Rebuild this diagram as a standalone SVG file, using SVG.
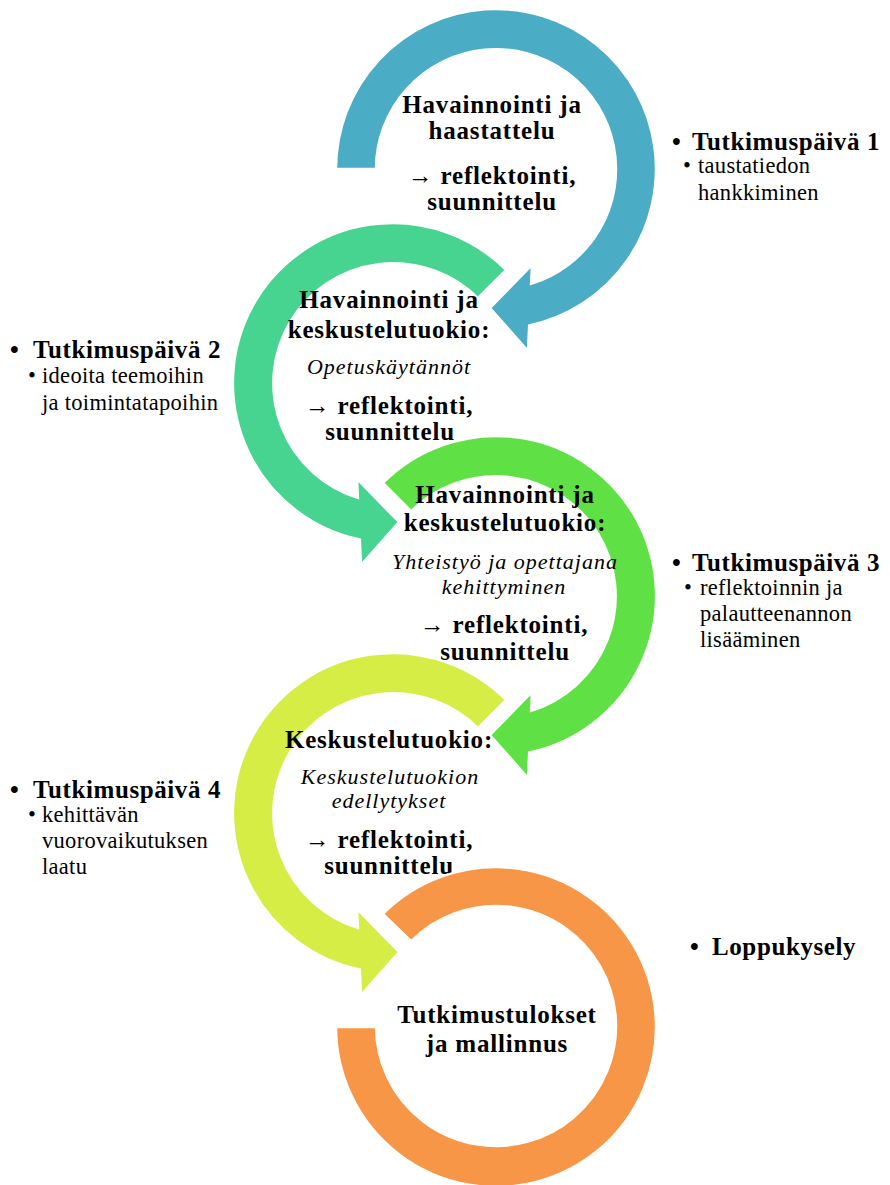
<svg xmlns="http://www.w3.org/2000/svg" width="890" height="1185" viewBox="0 0 890 1185">
  <style>
    text { font-family: "Liberation Serif", "Times New Roman", serif; fill: #000; }
    .hd { font-weight: bold; font-size: 25px; letter-spacing: 0.8px; text-anchor: middle; }
    .it { font-style: italic; font-weight: normal; font-size: 22px; letter-spacing: 1px; text-anchor: middle; }
    .lb { font-weight: bold; font-size: 25px; letter-spacing: 0.6px; }
    .sb { font-weight: normal; font-size: 22.5px; letter-spacing: 0.3px; }
    .arc { stroke: #fff; stroke-width: 2.5; stroke-linejoin: miter; }
  </style>

  <!-- step 1: observation and interview -->
  <g id="step1">
    <path class="arc" fill="#4BACC6" d="M336,169 A160,160 0 1 1 529.2,325.5 L528,351 L490,308 L532,265 L531.1,283.9 A120,120 0 1 0 376,169 Z"/>
    <text class="hd" x="492" y="113">Havainnointi ja</text>
    <text class="hd" x="492" y="139">haastattelu</text>
    <text class="hd" x="492" y="184">→ reflektointi,</text>
    <text class="hd" x="492" y="210">suunnittelu</text>
  </g>

  <!-- step 2: teaching practices -->
  <g id="step2">
    <path class="arc" fill="#47D491" d="M506.1,269.9 A160,160 0 1 0 359.8,539.5 L361,565 L399,522 L357,479 L357.9,497.9 A120,120 0 1 1 477.9,298.1 Z"/>
    <text class="hd" x="389" y="308">Havainnointi ja</text>
    <text class="hd" x="389" y="338">keskustelutuokio:</text>
    <text class="it" x="389" y="374">Opetuskäytännöt</text>
    <text class="hd" x="389" y="414">→ reflektointi,</text>
    <text class="hd" x="390" y="440">suunnittelu</text>
  </g>

  <!-- step 3: collaboration -->
  <g id="step3">
    <path class="arc" fill="#5FE145" d="M382.9,482.9 A160,160 0 1 1 529.2,752.5 L528,778 L490,735 L532,692 L531.1,710.9 A120,120 0 1 0 411.1,511.1 Z"/>
    <text class="hd" x="505" y="503">Havainnointi ja</text>
    <text class="hd" x="505" y="531">keskustelutuokio:</text>
    <text class="it" x="505" y="569">Yhteistyö ja opettajana</text>
    <text class="it" x="504" y="594">kehittyminen</text>
    <text class="hd" x="504" y="633">→ reflektointi,</text>
    <text class="hd" x="505" y="660">suunnittelu</text>
  </g>

  <!-- step 4: conditions for discussion -->
  <g id="step4">
    <path class="arc" fill="#D5ED45" d="M506.1,699.9 A160,160 0 1 0 359.8,969.5 L361,995 L399,952 L357,909 L357.9,927.9 A120,120 0 1 1 477.9,728.1 Z"/>
    <text class="hd" x="389" y="748">Keskustelutuokio:</text>
    <text class="it" x="390" y="784">Keskustelutuokion</text>
    <text class="it" x="389" y="808">edellytykset</text>
    <text class="hd" x="389" y="848">→ reflektointi,</text>
    <text class="hd" x="389" y="874">suunnittelu</text>
  </g>

  <!-- step 5: results and modelling -->
  <g id="step5">
    <path class="arc" fill="#F79646" d="M382.9,913.9 A160,160 0 1 1 336,1027 L376,1027 A120,120 0 1 0 411.1,941.1 Z"/>
    <text class="hd" x="497" y="1023">Tutkimustulokset</text>
    <text class="hd" x="497" y="1052">ja mallinnus</text>
  </g>

  <!-- research day notes -->
  <g id="day1">
    <text class="lb" y="150"><tspan x="672">•</tspan><tspan x="692">Tutkimuspäivä 1</tspan></text>
    <text class="sb" y="173"><tspan x="683">•</tspan><tspan x="698">taustatiedon</tspan></text>
    <text class="sb" x="698" y="200">hankkiminen</text>
  </g>
  <g id="day2">
    <text class="lb" y="358"><tspan x="10">•</tspan><tspan x="33">Tutkimuspäivä 2</tspan></text>
    <text class="sb" y="383"><tspan x="28">•</tspan><tspan x="42">ideoita teemoihin</tspan></text>
    <text class="sb" x="42" y="410">ja toimintatapoihin</text>
  </g>
  <g id="day3">
    <text class="lb" y="571"><tspan x="672">•</tspan><tspan x="692">Tutkimuspäivä 3</tspan></text>
    <text class="sb" y="595"><tspan x="684">•</tspan><tspan x="700">reflektoinnin ja</tspan></text>
    <text class="sb" x="700" y="621">palautteenannon</text>
    <text class="sb" x="700" y="647">lisääminen</text>
  </g>
  <g id="day4">
    <text class="lb" y="798"><tspan x="10">•</tspan><tspan x="33">Tutkimuspäivä 4</tspan></text>
    <text class="sb" y="822"><tspan x="28">•</tspan><tspan x="42">kehittävän</tspan></text>
    <text class="sb" x="42" y="848">vuorovaikutuksen</text>
    <text class="sb" x="42" y="874">laatu</text>
  </g>
  <g id="survey">
    <text class="lb" y="955"><tspan x="690">•</tspan><tspan x="712">Loppukysely</tspan></text>
  </g>
</svg>
